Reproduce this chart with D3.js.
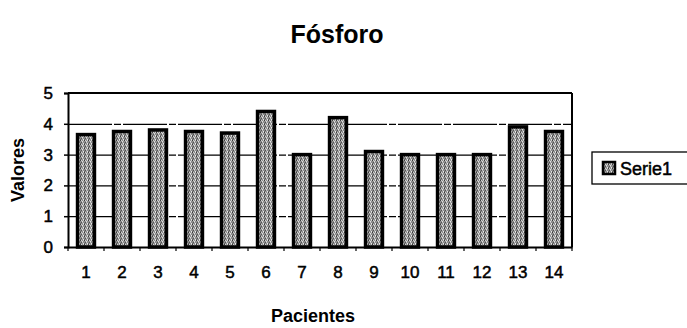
<!DOCTYPE html>
<html>
<head>
<meta charset="utf-8">
<script src="https://cdn.jsdelivr.net/npm/d3@7/dist/d3.min.js"></script>
<style>
  html, body { margin: 0; padding: 0; background: #fff; }
  svg { display: block; font-family: "Liberation Sans", Arial, Helvetica, sans-serif; }
</style>
</head>
<body>
<svg id="chart" width="687" height="328"></svg>
<script>
// Phosphorus level per patient
const pacientes = ["1","2","3","4","5","6","7","8","9","10","11","12","13","14"];
const valores = [3.65, 3.75, 3.8, 3.75, 3.7, 4.4, 3.0, 4.2, 3.1, 3.0, 3.0, 3.0, 3.9, 3.75];
const yTicks = [0, 1, 2, 3, 4, 5];
const serieName = "Serie1";

const svg = d3.select("#chart");
const plot = { left: 68, right: 572, top: 93, bottom: 247 };

const x = d3.scaleBand().domain(pacientes).range([plot.left, plot.right]).paddingInner(0.53).paddingOuter(0.265);
const xCat = d3.scaleBand().domain(pacientes).range([plot.left, plot.right]);
const y = d3.scaleLinear().domain([0, 5]).range([plot.bottom, plot.top]);

// stippled grey fill used by the bars and the legend key
const defs = svg.append("defs");
const pat = defs.append("pattern").attr("id", "stipple")
  .attr("patternUnits", "userSpaceOnUse").attr("width", 4).attr("height", 4);
pat.append("rect").attr("width", 4).attr("height", 4).attr("fill", "#8c8c8c");
[[0,0,"#3a3a3a"],[2,1,"#e0e0e0"],[1,2,"#505050"],[3,3,"#e8e8e8"],[3,0,"#c8c8c8"],[0,3,"#606060"],[2,2,"#bdbdbd"],[1,0,"#d0d0d0"]]
  .forEach(([px, py, c]) => pat.append("rect").attr("x", px).attr("y", py).attr("width", 1).attr("height", 1).attr("fill", c));

// horizontal gridlines
svg.append("g").selectAll("line").data(yTicks.filter(t => t > 0 && t < 5)).join("line")
  .attr("x1", plot.left).attr("x2", plot.right)
  .attr("y1", d => y(d) + 0.5).attr("y2", d => y(d) + 0.5)
  .attr("stroke", "#000").attr("stroke-width", 1.3)
  .attr("stroke-dasharray", "44,2,7,2");

// plot frame: top and right edges
svg.append("line").attr("x1", plot.left).attr("x2", plot.right)
  .attr("y1", y(5)).attr("y2", y(5)).attr("stroke", "#000").attr("stroke-width", 2.2);
svg.append("line").attr("x1", plot.right).attr("x2", plot.right)
  .attr("y1", y(5)).attr("y2", y(0)).attr("stroke", "#000").attr("stroke-width", 2);

// bars
svg.append("g").selectAll("rect").data(valores).join("rect")
  .attr("x", (d, i) => x(pacientes[i]))
  .attr("y", d => y(d))
  .attr("width", x.bandwidth())
  .attr("height", d => y(0) - y(d))
  .attr("fill", "url(#stipple)")
  .attr("stroke", "#000").attr("stroke-width", 3.5);

const labelStyle = sel => sel.attr("font-size", 17).attr("fill", "#000")
  .attr("stroke", "#000").attr("stroke-width", 0.5)
  .attr("font-family", "'Liberation Sans', Arial, sans-serif");

// y axis
const yAxis = svg.append("g").attr("transform", `translate(${plot.left},0)`)
  .call(d3.axisLeft(y).tickValues(yTicks).tickSize(4).tickPadding(11).tickFormat(d3.format("d")));
yAxis.select(".domain").attr("stroke", "#000").attr("stroke-width", 2);
yAxis.selectAll(".tick line").attr("stroke", "#000").attr("stroke-width", 1.5);
yAxis.selectAll("text").call(labelStyle);

// x axis: ticks on category boundaries, labels centred under bars
const xAxis = svg.append("g").attr("transform", `translate(0,${plot.bottom})`)
  .call(d3.axisBottom(x).tickSize(0).tickPadding(19));
xAxis.select(".domain").attr("stroke", "#000").attr("stroke-width", 2.2);
xAxis.selectAll("text").call(labelStyle);
svg.append("g").selectAll("line").data(pacientes.concat(["end"])).join("line")
  .attr("x1", d => d === "end" ? plot.right : xCat(d))
  .attr("x2", d => d === "end" ? plot.right : xCat(d))
  .attr("y1", plot.bottom).attr("y2", plot.bottom + 4)
  .attr("stroke", "#000").attr("stroke-width", 1.2);

// titles
svg.append("text").attr("x", 337).attr("y", 43).attr("text-anchor", "middle")
  .attr("font-size", 25).attr("font-weight", "bold").text("Fósforo");
svg.append("text").attr("x", 313).attr("y", 322).attr("text-anchor", "middle")
  .attr("font-size", 18).attr("font-weight", "bold").text("Pacientes");
svg.append("text").attr("transform", `translate(24,${(plot.top + plot.bottom) / 2}) rotate(-90)`)
  .attr("text-anchor", "middle").attr("font-size", 18).attr("font-weight", "bold").text("Valores");

// legend
const lg = svg.append("g").attr("transform", "translate(592,152)");
lg.append("rect").attr("x", 0).attr("y", 0).attr("width", 110).attr("height", 32)
  .attr("fill", "#fff").attr("stroke", "#000").attr("stroke-width", 1.3);
lg.append("rect").attr("x", 11).attr("y", 10).attr("width", 12).attr("height", 12)
  .attr("fill", "url(#stipple)").attr("stroke", "#000").attr("stroke-width", 2.5);
lg.append("text").attr("x", 28).attr("y", 23).call(labelStyle).attr("font-size", 18).text(serieName);
</script>
</body>
</html>
